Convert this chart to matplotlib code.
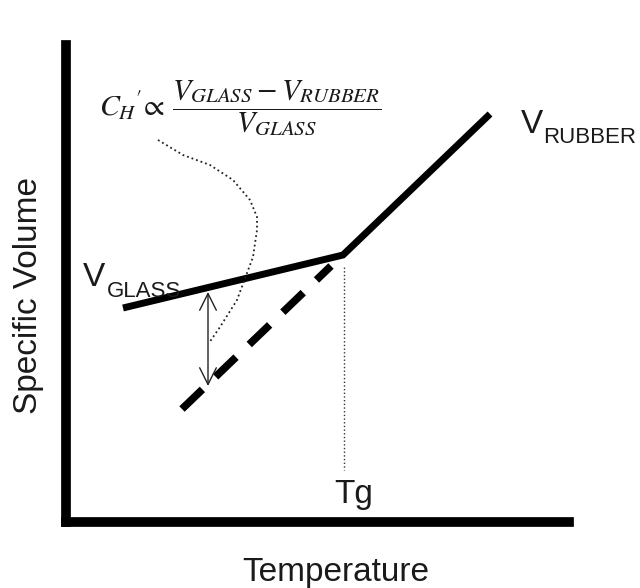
import matplotlib.pyplot as plt
import matplotlib as mpl

mpl.rcParams['font.family'] = ['Liberation Sans', 'DejaVu Sans']
mpl.rcParams['mathtext.fontset'] = 'stix'

# schematic values (arbitrary units)
glass_temp = [123, 343]
glass_vol = [308, 255]
rubber_temp = [343, 490]
rubber_vol = [255, 114]
extrap_temp = [182, 331]
extrap_vol = [409, 266]
tg_temp = 344
tg_vol = [267, 470]
arrow_temp = 208
arrow_vol = [292, 386]
ch_temp = [158, 183, 210, 233, 250, 257, 257, 253, 247, 237, 220, 209]
ch_vol = [140, 155, 165, 180, 200, 217, 230, 257, 273, 300, 327, 343]

W, H = 640, 588
x0, x1 = 65.5, 569
y_bot, y_top = 522, 45

fig = plt.figure(figsize=(6.4, 5.88), dpi=100)
ax = fig.add_axes([x0 / W, (H - y_bot) / H, (x1 - x0) / W, (y_bot - y_top) / H])
ax.set_xlim(x0, x1)
ax.set_ylim(y_bot, y_top)
for s in ['top', 'right']:
    ax.spines[s].set_visible(False)
for s in ['left', 'bottom']:
    ax.spines[s].set_linewidth(7)
    ax.spines[s].set_capstyle('projecting')
ax.set_xticks([])
ax.set_yticks([])

ax.plot(glass_temp + rubber_temp[1:], glass_vol + rubber_vol[1:], color='black',
        lw=5, solid_capstyle='butt', solid_joinstyle='miter')
ax.plot(extrap_temp, extrap_vol, color='black', lw=5.5, dashes=(3.7, 2.4),
        dash_capstyle='butt')
ax.plot([tg_temp, tg_temp], tg_vol, color='#333333', lw=1, ls=':')
ax.plot(ch_temp, ch_vol, color='#222222', lw=1.3, ls=':')
ax.annotate('', xy=(arrow_temp, arrow_vol[0]), xytext=(arrow_temp, arrow_vol[1]),
            arrowprops=dict(arrowstyle='<->', lw=1, color='#222222',
                            mutation_scale=30, shrinkA=0, shrinkB=0))

tc = '#1a1a1a'
kw = dict(clip_on=False, color=tc)
ax.text(83, 286, 'V', fontsize=24, ha='left', va='baseline', **kw)
ax.text(107, 297, 'GLASS', fontsize=16, ha='left', va='baseline', **kw)
ax.text(521, 133, 'V', fontsize=24, ha='left', va='baseline', **kw)
ax.text(543, 143, 'RUBBER', fontsize=16, ha='left', va='baseline', **kw)
ax.text(354, 503, 'Tg', fontsize=24, ha='center', va='baseline', **kw)
ax.text(336, 581, 'Temperature', fontsize=24, ha='center', va='baseline', **kw)
ax.text(29, 296, 'Specific Volume', fontsize=24, ha='center', va='center',
        rotation=90, **kw)
ax.text(99, 108,
        r'$C_H{}^{\prime}\!\propto\,\dfrac{V_{GLASS}-V_{RUBBER}}{V_{GLASS}}$',
        fontsize=21.5, ha='left', va='center', **kw)

fig.savefig('out.png', dpi=100)
